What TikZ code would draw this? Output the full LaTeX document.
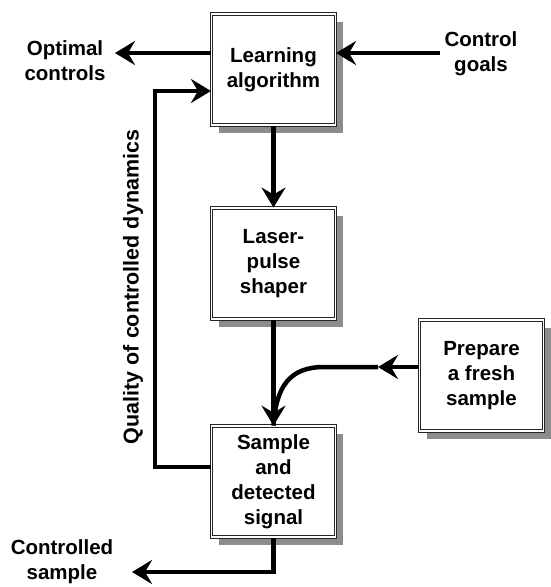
\documentclass[tikz,border=0pt]{standalone}
\usepackage{fontspec}
\setmainfont{Liberation Sans}
\usetikzlibrary{positioning,arrows.meta,shadows}

\begin{document}
\begin{tikzpicture}[x=1pt, y=-1pt, font=\bfseries\fontsize{20.5}{25}\selectfont,
    main/.style = {draw=black!85, double, double distance=1.6pt, line width=1.1pt, fill=white,
        minimum width=124pt, minimum height=111pt, align=center,
        drop shadow={shadow xshift=7pt, shadow yshift=-8pt, fill=black!45, opacity=1}},
    flow/.style = {line width=4.5pt, -{Stealth[length=20pt, width=24pt, inset=7pt]}},
    pipe/.style = {line width=4.5pt},
    lbl/.style = {align=center}]
    \useasboundingbox (0,0) rectangle (550,587);

    % the loop
    \node[main] (learn) at (273.5,69.5) {Learning\\algorithm};
    \node[main] (laser) [below=82pt of learn] {Laser-\\pulse\\shaper};
    \node[main] (sample) [below=106pt of laser] {Sample\\and\\detected\\signal};
    \node[main] (fresh) at (481.5,375.5) {Prepare\\a fresh\\sample};

    % outside labels
    \node[lbl] (optimal) at (65,61) {Optimal\\controls};
    \node[lbl] (goals) at (481,54) {Control\\goals};
    \node[lbl] (controlled) at (62,562) {Controlled\\sample};
    \node[rotate=90, font=\bfseries\fontsize{21.5}{25}\selectfont] (quality) at (133,287) {Quality of controlled dynamics};

    % free ends and corners
    \coordinate (optend) at (115,53);
    \coordinate (goalstart) at (440,53);
    \coordinate (fbtop) at (155,91);
    \coordinate (fbbot) at (155,467);
    \coordinate (prep) at (378,367);
    \coordinate (bend) at (324,367);
    \coordinate (outend) at (132,572);

    \draw[flow] (learn.west |- optend) -- (optend);
    \draw[flow] (goalstart) -- (goalstart -| learn.east);
    \draw[flow] (learn) -- (laser);
    \draw[flow] (laser) -- (sample);
    \draw[flow] (fresh.west |- prep) -- (prep);
    \draw[pipe] (prep) -- (bend) .. controls (290,367) and (276,386) .. (sample.north);
    \draw[flow] (fbbot -| sample.west) -- (fbbot) -- (fbtop) -- (fbtop -| learn.west);
    \draw[flow] (sample.south) |- (outend);
\end{tikzpicture}
\end{document}
